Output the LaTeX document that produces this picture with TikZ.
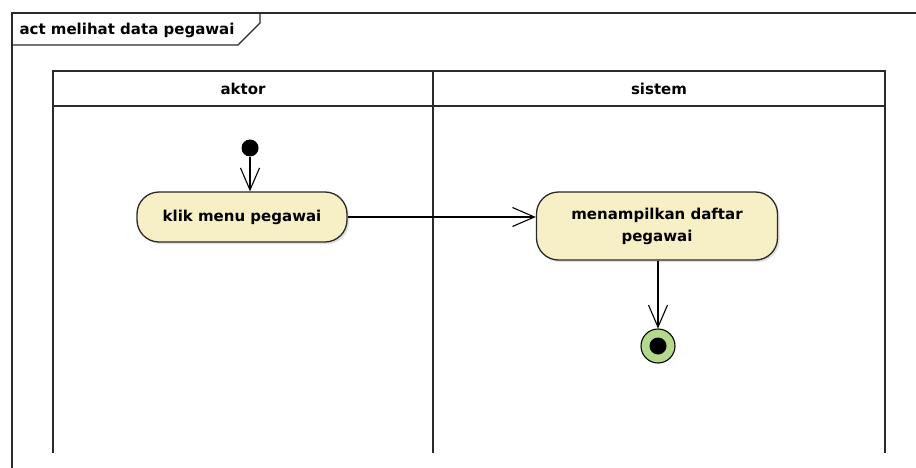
\documentclass[tikz,border=0pt]{standalone}
\usepackage{fontspec}
\setmainfont{DejaVu Sans}
\usetikzlibrary{arrows.meta,shadows}
\definecolor{actfill}{HTML}{F7EFC6}
\definecolor{finalfill}{HTML}{B4D98A}
\definecolor{inkline}{HTML}{2A2A2A}
\begin{document}
\begin{tikzpicture}[x=1pt,y=-1pt,
  every node/.style={font=\bfseries\fontsize{15}{22}\selectfont},
  frameline/.style={draw=inkline,line width=1.3pt},
  laneline/.style={draw=inkline,line width=1.6pt},
  action/.style={draw=inkline,line width=1.3pt,fill=actfill,rounded corners=22pt,
    align=center,drop shadow={shadow xshift=2pt,shadow yshift=-2pt,opacity=0.25}},
  flow/.style={draw=black,line width=1.1pt,
    -{Straight Barb[length=22pt,width=19pt,line width=1.1pt]}}
]
\useasboundingbox (0,0) rectangle (916,468);
\fill[white] (0,0) rectangle (916,468);

% diagram frame with its name tab
\draw[frameline] (12,468) -- (12,13) -- (916,13);
\draw[frameline] (12,45) -- (238,45) -- (260,23) -- (260,13);
\node[anchor=west] (title) at (16,30) {act melihat data pegawai};

% swimlanes
\draw[laneline] (53,453) -- (53,71) -- (885,71) -- (885,453);
\draw[laneline] (53,106) -- (885,106);
\draw[laneline] (433,71) -- (433,453);
\node (laneA) at (243,89) {aktor};
\node (laneB) at (659,89) {sistem};

% activity nodes
\node[circle,fill=black,minimum size=17pt,inner sep=0pt] (start) at (250,148) {};
\node[action,minimum width=210pt,minimum height=50pt] (a1) at (242,217) {klik menu pegawai};
\node[action,minimum width=241pt,minimum height=68pt] (a2) at (657,226) {menampilkan daftar\\pegawai};
\node[circle,draw=black,line width=1.1pt,fill=finalfill,minimum size=34pt,inner sep=0pt] (end) at (658,346) {};
\node[circle,fill=black,minimum size=17pt,inner sep=0pt] (endcore) at (end.center) {};

% control flows
\draw[flow] (start.south) -- (start.south |- a1.north);
\draw[flow] (a1.east) -- (a1.east -| a2.west);
\draw[flow] (a2.south -| end.north) -- (end.north);
\end{tikzpicture}
\end{document}
